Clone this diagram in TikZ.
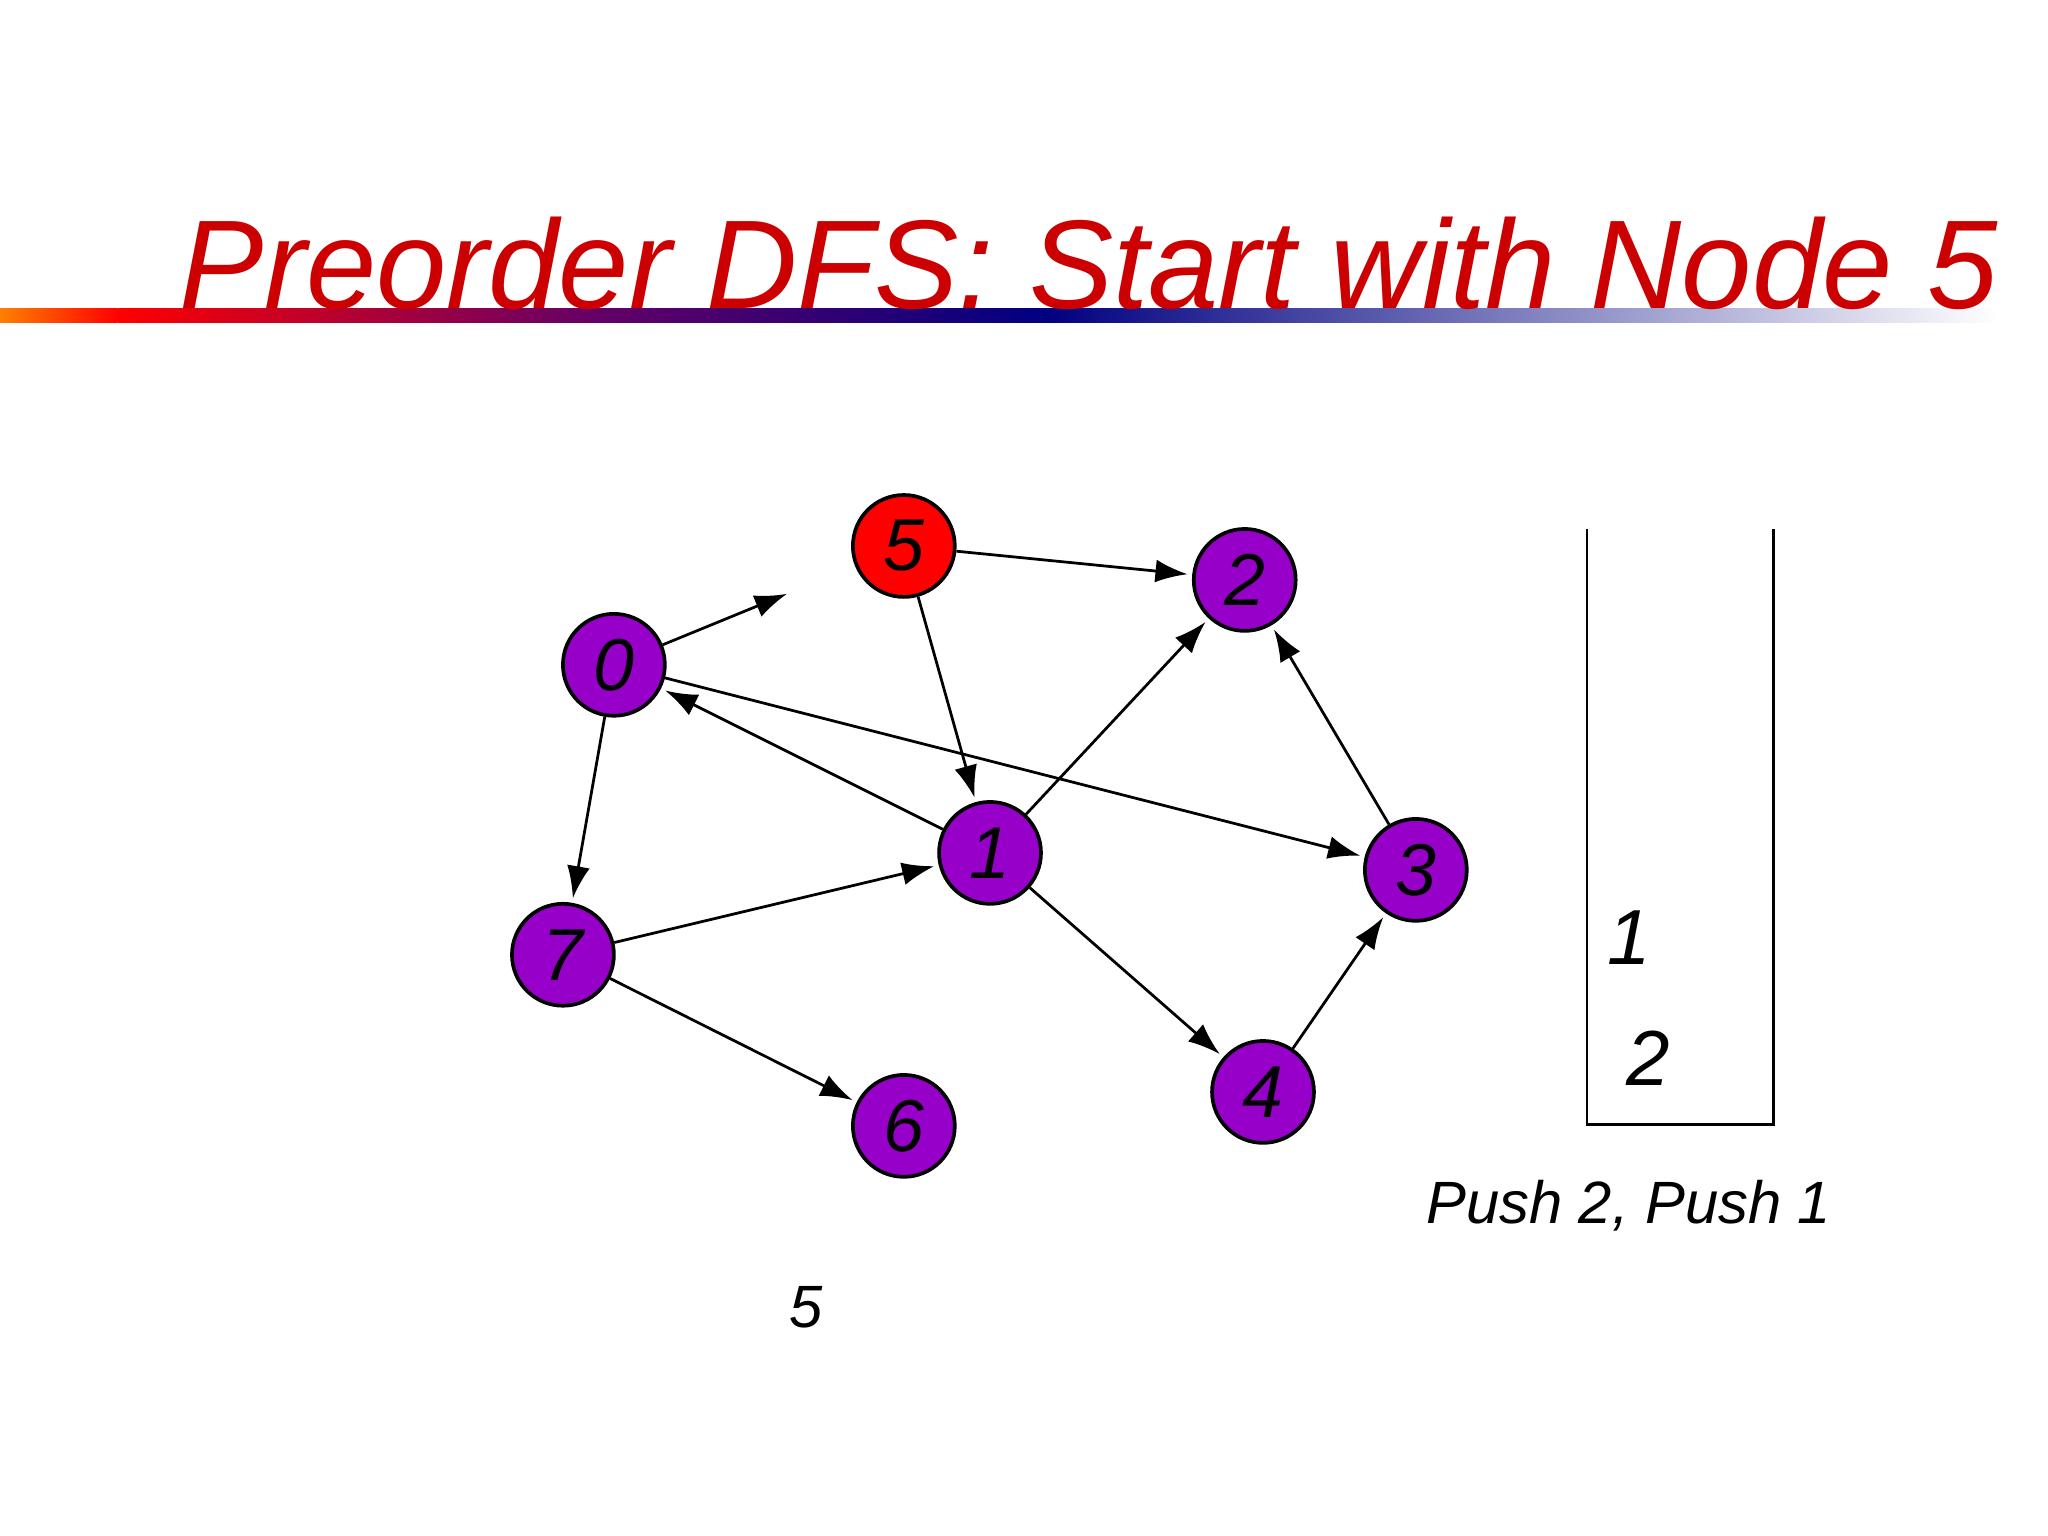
\documentclass[tikz,border=0pt]{standalone}
\usepackage{fontspec}
\setmainfont{Liberation Sans}
\usetikzlibrary{arrows.meta}
\begin{document}
\begin{tikzpicture}[x=0.01cm,y=-0.01cm,
  vert/.style={circle,draw=black,thick,fill=violet!75!blue!90!red,minimum size=0.78cm,inner sep=0pt,font=\fontsize{16}{16}\selectfont\itshape},
  edge/.style={-{Latex[length=7pt,width=5pt]},semithick,shorten >=1pt},
  lbl/.style={font=\fontsize{17}{17}\selectfont\itshape}]
\useasboundingbox (0,0) rectangle (1568,1176);
\fill[white] (0,0) rectangle (1568,1176);
% gradient bar
\shade[left color=orange,right color=red] (0,236) rectangle (90,247);
\shade[left color=red,right color=violet!80!black] (90,236) rectangle (450,247);
\shade[left color=violet!80!black,right color=blue!50!black] (450,236) rectangle (800,247);
\shade[left color=blue!50!black,right color=white] (800,236) rectangle (1530,247);
\node[anchor=base west,inner sep=0pt,text=red!80!black,font=\fontsize{27.5}{28}\selectfont\itshape] (title) at (137,236) {Preorder DFS: Start with Node 5};
\colorlet{vfill}{violet!75!blue!90!red}
\node[vert] (n5) at (692,418) [fill=red] {5};
\node[vert,fill={rgb,255:red,150;green,0;blue,200}] (n2) at (953,444) {2};
\node[vert,fill={rgb,255:red,150;green,0;blue,200}] (n0) at (470,509) {0};
\node[vert,fill={rgb,255:red,150;green,0;blue,200}] (n1) at (758,653) {1};
\node[vert,fill={rgb,255:red,150;green,0;blue,200}] (n3) at (1084,666) {3};
\node[vert,fill={rgb,255:red,150;green,0;blue,200}] (n7) at (431,731) {7};
\node[vert,fill={rgb,255:red,150;green,0;blue,200}] (n4) at (967,836) {4};
\node[vert,fill={rgb,255:red,150;green,0;blue,200}] (n6) at (692,862) {6};
\draw[edge,shorten >=16pt] (n0) -- (n5);
\draw[edge] (n5) -- (n2);
\draw[edge] (n5) -- (n1);
\draw[edge] (n1) -- (n0);
\draw[edge] (n0) -- (n3);
\draw[edge] (n0) -- (n7);
\draw[edge] (n7) -- (n1);
\draw[edge] (n1) -- (n2);
\draw[edge] (n1) -- (n4);
\draw[edge] (n3) -- (n2);
\draw[edge] (n4) -- (n3);
\draw[edge] (n7) -- (n6);
% stack
\coordinate (s1) at (1215,405);
\coordinate (s2) at (1215,861);
\coordinate (s3) at (1358,861);
\coordinate (s4) at (1358,405);
\draw[semithick] (s1) -- (s2) -- (s3) -- (s4);
\node[lbl] (st1) at (1247,718) {1};
\node[lbl] (st2) at (1262,810) {2};
\node[font=\fontsize{13}{13}\selectfont\itshape] (push) at (1247,923) {Push 2, Push 1};
\node[font=\fontsize{13}{13}\selectfont\itshape] (out) at (617,1001) {5};
\end{tikzpicture}
\end{document}
